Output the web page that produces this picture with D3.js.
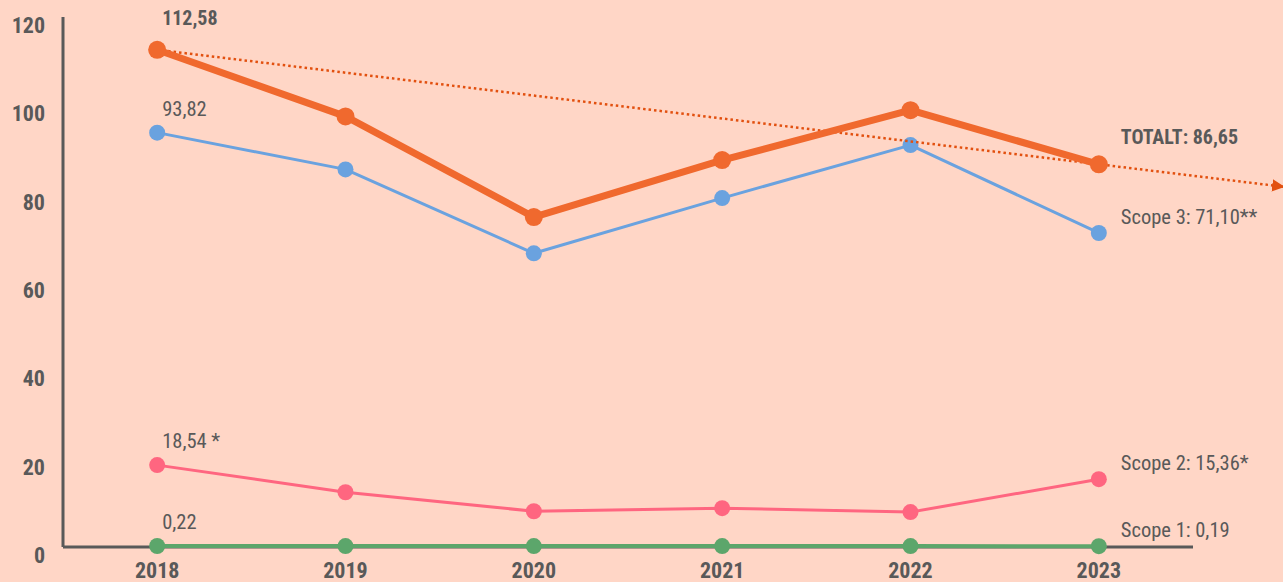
<!DOCTYPE html>
<html>
<head>
<meta charset="utf-8">
<script src="https://cdn.jsdelivr.net/npm/d3@7"></script>
<style>
  body { margin: 0; background: #FFD6C6; }
  svg { display: block; font-family: "Roboto Condensed", "DejaVu Sans Condensed", Roboto, sans-serif; }
</style>
</head>
<body>
<div id="chart"></div>
<script>
// chart data
var years = [2018, 2019, 2020, 2021, 2022, 2023];
var totalValues = [112.58, 97.5, 74.7, 87.6, 98.9, 86.65];
var scope3Values = [93.82, 85.5, 66.5, 79.0, 91.0, 71.10];
var scope2Values = [18.54, 12.4, 8.1, 8.8, 7.9, 15.36];
var scope1Values = [0.22, 0.2, 0.2, 0.2, 0.2, 0.19];
var yTicks = [0, 20, 40, 60, 80, 100, 120];

var startLabels = ["112,58", "93,82", "18,54 *", "0,22"];
var endLabels = ["TOTALT: 86,65", "Scope 3: 71,10**", "Scope 2: 15,36*", "Scope 1: 0,19"];

// svg area
var svgWidth = 1283;
var svgHeight = 582;
var textColor = "#595959";

var svg = d3.select("#chart").append("svg")
    .attr("width", svgWidth)
    .attr("height", svgHeight);

// scales
var xScale = d3.scaleLinear()
    .domain([2017.5, 2023.5])
    .range([63, 1193]);

var yScale = d3.scaleLinear()
    .domain([0, 120])
    .range([547, 17]);

// axis lines
svg.append("line")
    .attr("x1", xScale(2017.5)).attr("x2", xScale(2017.5))
    .attr("y1", yScale(120)).attr("y2", yScale(0))
    .attr("stroke", textColor).attr("stroke-width", 3);

svg.append("line")
    .attr("x1", xScale(2017.5)).attr("x2", xScale(2023.5))
    .attr("y1", yScale(0)).attr("y2", yScale(0))
    .attr("stroke", textColor).attr("stroke-width", 3);

// y tick labels
svg.selectAll(".ytick").data(yTicks).enter().append("text")
    .attr("x", 45)
    .attr("y", d => yScale(d) + 16)
    .attr("text-anchor", "end")
    .attr("font-size", 22)
    .attr("font-weight", "bold")
    .attr("fill", textColor)
    .text(d => d);

// x tick labels
svg.selectAll(".xtick").data(years).enter().append("text")
    .attr("x", d => xScale(d))
    .attr("y", 578)
    .attr("text-anchor", "middle")
    .attr("font-size", 22)
    .attr("font-weight", "bold")
    .attr("fill", textColor)
    .text(d => d);

// trend arrow: from first total through last total, extended
var trendSlope = (totalValues[5] - totalValues[0]) / (years[5] - years[0]);
var trendEndYear = 2023.98;
var trendData = [
    [years[0], totalValues[0]],
    [trendEndYear, totalValues[0] + trendSlope * (trendEndYear - years[0])]
];

svg.append("defs").append("marker")
    .attr("id", "arrow")
    .attr("viewBox", "0 0 10 10")
    .attr("refX", 9).attr("refY", 5)
    .attr("markerWidth", 5).attr("markerHeight", 5)
    .attr("markerUnits", "strokeWidth")
    .attr("orient", "auto")
    .append("path")
    .attr("d", "M0,0 L10,5 L0,10 Z")
    .attr("fill", "#E2500F");

// series
var series = [
    { values: scope1Values, color: "#5CA66B", width: 4, r: 8 },
    { values: scope2Values, color: "#FF6680", width: 3, r: 8 },
    { values: scope3Values, color: "#6AA2DF", width: 3, r: 8 },
    { values: totalValues, color: "#F0692E", width: 7, r: 9 }
];

var line = d3.line()
    .x((d, i) => xScale(years[i]))
    .y(d => yScale(d));

series.forEach(function (s, k) {
    svg.append("path")
        .datum(s.values)
        .attr("d", line)
        .attr("fill", "none")
        .attr("stroke", s.color)
        .attr("stroke-width", s.width)
        .attr("stroke-linejoin", "round");

    svg.selectAll(".dot" + k).data(s.values).enter().append("circle")
        .attr("cx", (d, i) => xScale(years[i]))
        .attr("cy", d => yScale(d))
        .attr("r", s.r)
        .attr("fill", s.color);

    // draw the trend just after the scope 3 line
    if (k === 2) {
        svg.append("path")
            .datum(trendData)
            .attr("d", d3.line().x(d => xScale(d[0])).y(d => yScale(d[1])))
            .attr("fill", "none")
            .attr("stroke", "#E2500F")
            .attr("stroke-width", 2.5)
            .attr("stroke-dasharray", "2.5,3")
            .attr("marker-end", "url(#arrow)");
    }
});

// labels at the start
var startValues = [totalValues[0], scope3Values[0], scope2Values[0], scope1Values[0]];
svg.selectAll(".startLabel").data(startLabels).enter().append("text")
    .attr("x", xScale(2018) + 5)
    .attr("y", (d, i) => yScale(startValues[i]) - (i === 0 ? 25 : 17))
    .attr("font-size", (d, i) => i === 0 ? 20 : 20.5)
    .attr("font-weight", (d, i) => i === 0 ? "bold" : "normal")
    .attr("fill", textColor)
    .text(d => d);

// labels at the end
var endY = [137, 217, 463, 530];
svg.selectAll(".endLabel").data(endLabels).enter().append("text")
    .attr("x", xScale(2023) + 22)
    .attr("y", (d, i) => endY[i] + 7)
    .attr("font-size", (d, i) => i === 0 ? 20 : 20.5)
    .attr("font-weight", (d, i) => i === 0 ? "bold" : "normal")
    .attr("fill", textColor)
    .text(d => d);
</script>
</body>
</html>
